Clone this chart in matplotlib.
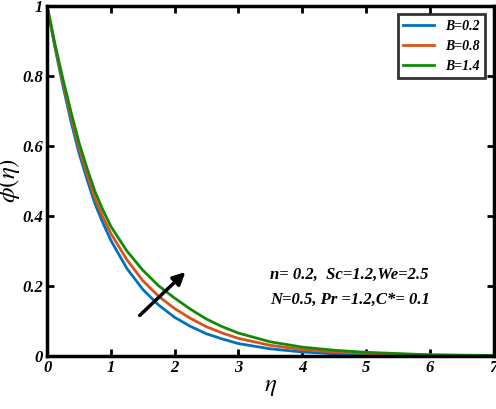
import numpy as np
import matplotlib.pyplot as plt

plt.rcParams['font.family'] = 'Liberation Serif'
plt.rcParams['mathtext.fontset'] = 'stix'

eta = [0, 0.125, 0.25, 0.375, 0.5, 0.625, 0.75, 0.875, 1.0, 1.25, 1.5, 1.75, 2.0, 2.25, 2.5, 2.75, 3.0, 3.5, 4.0, 4.5, 5.0, 6.0, 7.0]
phi_b02 = [1, 0.88, 0.77, 0.67, 0.58, 0.505, 0.435, 0.38, 0.33, 0.25, 0.19, 0.145, 0.11, 0.084, 0.063, 0.048, 0.035, 0.02, 0.011, 0.006, 0.004, 0.001, 0.0]
phi_b08 = [1, 0.885, 0.78, 0.685, 0.595, 0.52, 0.45, 0.397, 0.35, 0.275, 0.215, 0.17, 0.135, 0.107, 0.083, 0.065, 0.05, 0.03, 0.018, 0.011, 0.007, 0.002, 0.0005]
phi_b14 = [1, 0.89, 0.79, 0.697, 0.61, 0.537, 0.47, 0.417, 0.37, 0.3, 0.245, 0.2, 0.165, 0.133, 0.105, 0.083, 0.065, 0.04, 0.025, 0.016, 0.01, 0.003, 0.001]

fig, ax = plt.subplots(figsize=(4.96, 4.09), dpi=100)
ax.plot(eta, phi_b02, color='#0072BD', lw=2, label='B=0.2')
ax.plot(eta, phi_b08, color='#D95319', lw=2, label='B=0.8')
ax.plot(eta, phi_b14, color='#138a07', lw=2, label='B=1.4')

ax.set_xlim(0, 7)
ax.set_ylim(0, 1)
ax.set_xticks(range(8))
ax.set_yticks([0, 0.2, 0.4, 0.6, 0.8, 1])
ax.set_yticklabels(['0', '0.2', '0.4', '0.6', '0.8', '1'])
ax.tick_params(direction='in', top=True, right=True, width=2, length=5, labelsize=12, pad=3)
for lab in ax.get_xticklabels() + ax.get_yticklabels():
    lab.set_fontweight('bold')
    lab.set_fontstyle('italic')
for s in ax.spines.values():
    s.set_linewidth(2.5)

ax.set_xlabel(r'$\eta$', fontsize=18, labelpad=0)
ax.set_ylabel(r'$\phi(\eta)$', fontsize=18, labelpad=0)

leg = ax.legend(loc='upper right', fancybox=False, edgecolor='black', handlelength=2.2,
                prop={'weight': 'bold', 'style': 'italic', 'size': 10}, borderaxespad=0.6)
leg.get_frame().set_linewidth(2)

ax.annotate('', xy=(2.2, 0.245), xytext=(1.42, 0.11),
            arrowprops=dict(arrowstyle='-|>', color='black', lw=2.5, mutation_scale=18))
ax.text(3.5, 0.22, 'n= 0.2,  Sc=1.2,We=2.5', fontsize=12, fontweight='bold', fontstyle='italic')
ax.text(3.5, 0.15, 'N=0.5, Pr =1.2,C*= 0.1', fontsize=12, fontweight='bold', fontstyle='italic')

fig.subplots_adjust(left=0.095, right=0.995, top=0.985, bottom=0.13)
fig.savefig('out.png', dpi=100)
